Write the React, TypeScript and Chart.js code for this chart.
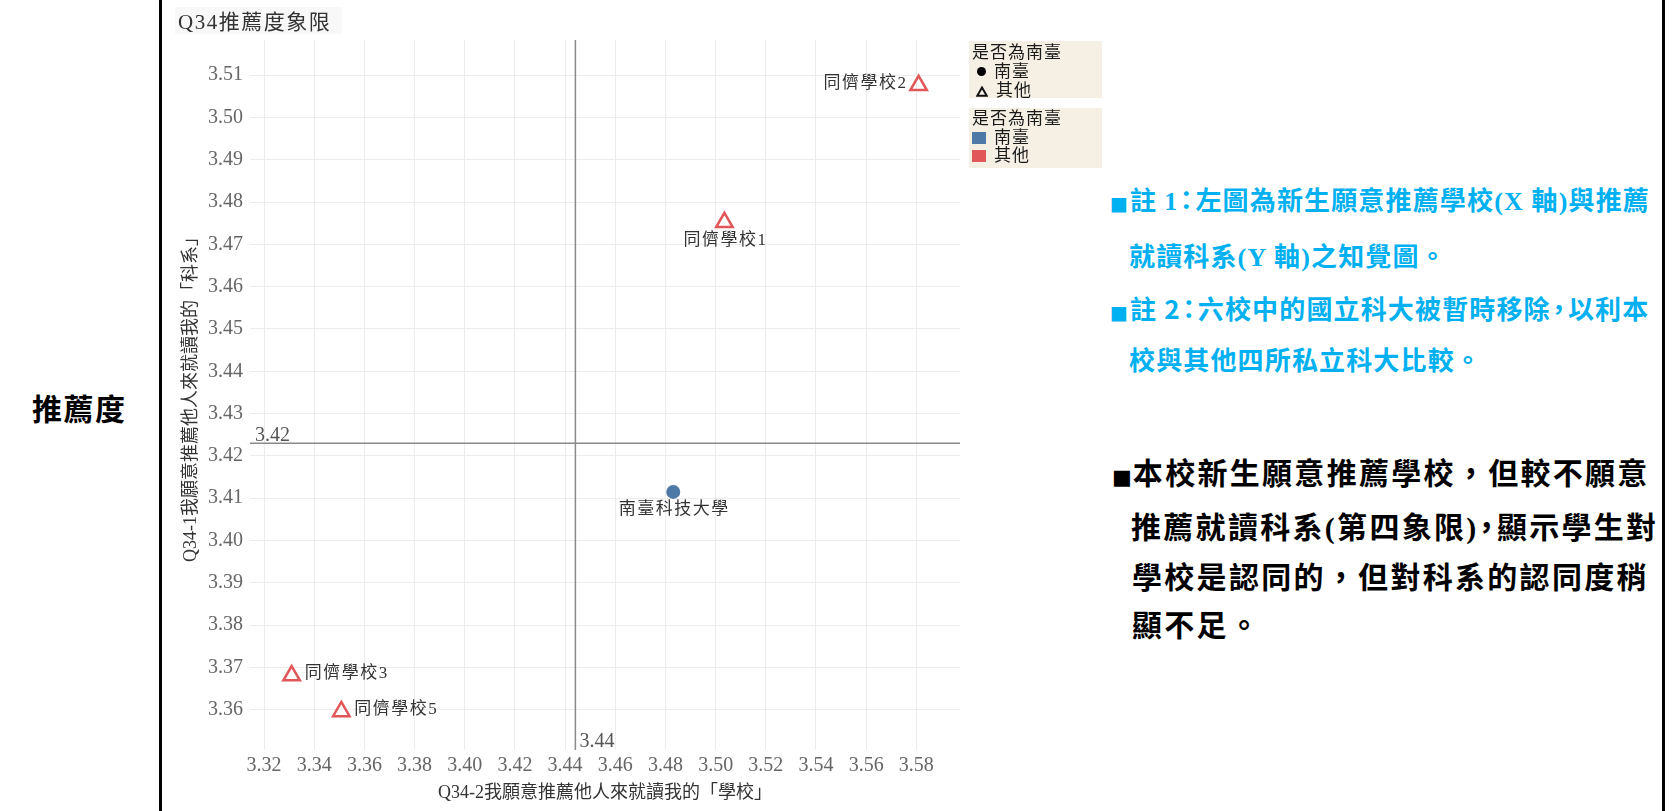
import React, { useEffect, useRef } from 'react';
import { Chart, registerables } from 'chart.js';

Chart.register(...registerables);

// ---------- data ----------
const SCHOOLS = ['南臺科技大學', '同儕學校1', '同儕學校2', '同儕學校3', '同儕學校5'];
const GROUPS = ['南臺', '其他', '其他', '其他', '其他'];
// X: Q34-2 我願意推薦他人來就讀我的「學校」
const SCHOOL_SCORE = [3.4831, 3.5035, 3.5809, 3.331, 3.3508];
// Y: Q34-1 我願意推薦他人來就讀我的「科系」
const DEPT_SCORE = [3.4115, 3.4752, 3.5076, 3.3681, 3.3596];
const REF_X = [3.4441];
const REF_Y = [3.423];
const X_TICKS = [3.32, 3.34, 3.36, 3.38, 3.4, 3.42, 3.44, 3.46, 3.48, 3.5, 3.52, 3.54, 3.56, 3.58];
const Y_TICKS = [3.36, 3.37, 3.38, 3.39, 3.4, 3.41, 3.42, 3.43, 3.44, 3.45, 3.46, 3.47, 3.48, 3.49, 3.5, 3.51];
const X_RANGE = [3.3144, 3.5974];
const Y_RANGE = [3.3505, 3.5183];

const CHART_TITLE = 'Q34推薦度象限';
const X_TITLE = 'Q34-2我願意推薦他人來就讀我的「學校」';
const Y_TITLE = 'Q34-1我願意推薦他人來就讀我的「科系」';
const LEGEND_TITLE = '是否為南臺';
const LEGEND_ITEMS = ['南臺', '其他'];

// ---------- styling ----------
const LABEL_SIDE = ['below', 'below', 'left', 'right', 'right'];
const SERIF = "'Liberation Serif', 'Noto Sans CJK TC', serif";
const SANS = "'Noto Sans CJK TC', 'Noto Sans', sans-serif";
const COLOR_SOUTH = '#4e79a7';
const COLOR_OTHER = '#e15759';

const overlayPlugin = {
  id: 'overlay',
  beforeDatasetsDraw(chart: any) {
    const { ctx, chartArea: a, scales } = chart;
    const px = scales.x.getPixelForValue(REF_X[0]);
    const py = scales.y.getPixelForValue(REF_Y[0]);
    ctx.save();
    ctx.strokeStyle = '#8a8a8a';
    ctx.lineWidth = 1.5;
    ctx.beginPath();
    ctx.moveTo(px, a.top);
    ctx.lineTo(px, a.bottom);
    ctx.moveTo(a.left, py);
    ctx.lineTo(a.right, py);
    ctx.stroke();
    ctx.font = `20px ${SERIF}`;
    ctx.fillStyle = '#555';
    ctx.textAlign = 'left';
    ctx.textBaseline = 'alphabetic';
    ctx.fillText(REF_Y[0].toFixed(2), a.left + 5, py - 2);
    ctx.fillText(REF_X[0].toFixed(2), px + 4, a.bottom - 3);
    ctx.restore();
  },
  afterDatasetsDraw(chart: any) {
    const { ctx, scales } = chart;
    ctx.save();
    ctx.font = `17px ${SERIF}`;
    (ctx as any).letterSpacing = '1.5px';
    ctx.fillStyle = '#333';
    ctx.textBaseline = 'middle';
    SCHOOLS.forEach((name, i) => {
      const px = scales.x.getPixelForValue(SCHOOL_SCORE[i]);
      const py = scales.y.getPixelForValue(DEPT_SCORE[i]);
      const side = LABEL_SIDE[i];
      if (side === 'left') {
        ctx.textAlign = 'right';
        ctx.fillText(name, px - 11, py - 2);
      } else if (side === 'right') {
        ctx.textAlign = 'left';
        ctx.fillText(name, px + 13, py - 2);
      } else {
        ctx.textAlign = 'center';
        ctx.fillText(name, px + 1, py + 18);
      }
    });
    ctx.restore();
  },
};

function pointsFor(group: string) {
  const out: { x: number; y: number }[] = [];
  SCHOOLS.forEach((_, i) => {
    if (GROUPS[i] === group) out.push({ x: SCHOOL_SCORE[i], y: DEPT_SCORE[i] });
  });
  return out;
}

function QuadrantChart() {
  const ref = useRef<HTMLCanvasElement | null>(null);
  useEffect(() => {
    if (!ref.current) return;
    const tickFont = { family: SERIF, size: 20 };
    const titleFont = { family: SERIF, size: 18 };
    const chart = new Chart(ref.current, {
      type: 'scatter',
      data: {
        datasets: [
          {
            label: LEGEND_ITEMS[0],
            data: pointsFor(LEGEND_ITEMS[0]),
            pointStyle: 'circle',
            pointRadius: 7,
            backgroundColor: COLOR_SOUTH,
            borderColor: COLOR_SOUTH,
            borderWidth: 0,
          },
          {
            label: LEGEND_ITEMS[1],
            data: pointsFor(LEGEND_ITEMS[1]),
            pointStyle: 'triangle',
            pointRadius: 9.5,
            backgroundColor: 'rgba(0,0,0,0)',
            borderColor: COLOR_OTHER,
            borderWidth: 2.5,
          },
        ],
      },
      options: {
        animation: false,
        responsive: true,
        maintainAspectRatio: false,
        events: [],
        layout: { padding: { top: 40, right: 20, left: 0, bottom: 0 } },
        plugins: { legend: { display: false }, tooltip: { enabled: false } },
        scales: {
          x: {
            type: 'linear',
            min: X_RANGE[0],
            max: X_RANGE[1],
            afterBuildTicks: (s: any) => {
              s.ticks = X_TICKS.map((v) => ({ value: v }));
            },
            afterFit: (s: any) => {
              s.height = 61;
            },
            ticks: {
              autoSkip: false,
              maxRotation: 0,
              padding: 4,
              color: '#666',
              font: tickFont,
              callback: (v: any) => Number(v).toFixed(2),
            },
            grid: { color: '#ececec', drawTicks: false },
            border: { display: false },
            title: {
              display: true,
              text: X_TITLE,
              color: '#333',
              font: titleFont,
              padding: { top: 0, bottom: 7 },
            },
          },
          y: {
            type: 'linear',
            min: Y_RANGE[0],
            max: Y_RANGE[1],
            afterBuildTicks: (s: any) => {
              s.ticks = Y_TICKS.map((v) => ({ value: v }));
            },
            afterFit: (s: any) => {
              s.width = 90;
            },
            ticks: {
              autoSkip: false,
              padding: 7,
              color: '#666',
              font: tickFont,
              callback: (v: any) => Number(v).toFixed(2),
            },
            grid: { color: '#ececec', drawTicks: false },
            border: { display: false },
            title: {
              display: true,
              text: Y_TITLE,
              color: '#333',
              font: titleFont,
              padding: { top: 20, bottom: 0 },
            },
          },
        },
      },
      plugins: [overlayPlugin],
    } as any);
    const fr = (document as any).fonts;
    if (fr && fr.ready) fr.ready.then(() => chart.update());
    return () => chart.destroy();
  }, []);
  return <canvas ref={ref} />;
}

const abs = (o: React.CSSProperties): React.CSSProperties => ({ position: 'absolute', whiteSpace: 'nowrap', ...o });

function TriangleIcon() {
  return (
    <svg width="12" height="11" viewBox="0 0 12 11" style={{ marginRight: 8, verticalAlign: '-1px' }}>
      <polygon points="6,1.5 10.8,9.8 1.2,9.8" fill="none" stroke="#111" strokeWidth="2" />
    </svg>
  );
}

export default function App() {
  useEffect(() => {
    document.body.style.margin = '0';
    document.body.style.overflow = 'hidden';
  }, []);

  const cyan: React.CSSProperties = {
    color: '#00b0f0',
    fontFamily: SANS,
    fontWeight: 700,
    fontSize: 26,
    letterSpacing: '1.15px',
    lineHeight: '36px',
    height: 36,
  };
  const black: React.CSSProperties = {
    color: '#000',
    fontFamily: SANS,
    fontWeight: 700,
    fontSize: 30,
    letterSpacing: '2.3px',
    lineHeight: '40px',
    height: 40,
  };
  const serifB: React.CSSProperties = { fontFamily: SERIF, fontWeight: 700 };
  const bulletC: React.CSSProperties = { fontFamily: "'DejaVu Sans'", fontSize: 19, letterSpacing: 0, marginRight: 2 };
  const bulletK: React.CSSProperties = { fontFamily: "'DejaVu Sans'", fontSize: 21, letterSpacing: 0, marginRight: 1 };
  const tight: React.CSSProperties = { margin: '0 -5px' };
  const legendText: React.CSSProperties = {
    fontFamily: SERIF,
    fontSize: 17,
    color: '#1a1a1a',
    letterSpacing: '1px',
    lineHeight: '19px',
    height: 19,
  };

  return (
    <div style={{ position: 'absolute', left: 0, top: 0, width: 1678, height: 811, background: '#fff', overflow: 'hidden' }}>
      <div style={abs({ left: 160, top: 0, width: 820, height: 811 })}>
        <QuadrantChart />
      </div>

      <div style={abs({ left: 159, top: 0, width: 3, height: 811, background: '#000' })} />
      <div style={abs({ left: 1662, top: 0, width: 3, height: 811, background: '#000' })} />

      <div style={abs({ left: 32, top: 387, height: 40, lineHeight: '40px', fontFamily: SANS, fontWeight: 700, fontSize: 30, letterSpacing: '1.5px', color: '#000' })}>
        推薦度
      </div>

      <div style={abs({ left: 175, top: 7, width: 167, height: 27, background: '#f8f8f8' })} />
      <div style={abs({ left: 178, top: 8, height: 28, lineHeight: '28px', fontFamily: SERIF, fontSize: 21, letterSpacing: '1.5px', color: '#333' })}>
        {CHART_TITLE}
      </div>

      {/* shape legend */}
      <div style={abs({ left: 969, top: 41, width: 133, height: 57, background: '#f5f0e3' })}>
        <div style={abs({ left: 3, top: 1.5, ...legendText })}>{LEGEND_TITLE}</div>
        <div style={abs({ left: 8, top: 20.5, ...legendText })}>
          <span style={{ display: 'inline-block', width: 9, height: 9, borderRadius: '50%', background: '#000', marginRight: 8, verticalAlign: '1px' }} />
          {LEGEND_ITEMS[0]}
        </div>
        <div style={abs({ left: 7, top: 39.5, ...legendText })}>
          <TriangleIcon />
          {LEGEND_ITEMS[1]}
        </div>
      </div>

      {/* colour legend */}
      <div style={abs({ left: 969, top: 108, width: 133, height: 60, background: '#f5f0e3' })}>
        <div style={abs({ left: 3, top: 0.5, ...legendText })}>{LEGEND_TITLE}</div>
        <div style={abs({ left: 3, top: 19.5, ...legendText })}>
          <span style={{ display: 'inline-block', width: 14, height: 12, background: COLOR_SOUTH, marginRight: 8, verticalAlign: '-1px' }} />
          {LEGEND_ITEMS[0]}
        </div>
        <div style={abs({ left: 3, top: 37.5, ...legendText })}>
          <span style={{ display: 'inline-block', width: 14, height: 12, background: COLOR_OTHER, marginRight: 8, verticalAlign: '-1px' }} />
          {LEGEND_ITEMS[1]}
        </div>
      </div>

      {/* cyan notes */}
      <div style={abs({ left: 1110, top: 181, ...cyan })}>
        <span style={bulletC}>■</span>註 <span style={serifB}>1</span><span style={tight}>：</span>左圖為新生願意推薦學校<span style={serifB}>(X </span>軸<span style={serifB}>)</span>與推薦
      </div>
      <div style={abs({ left: 1129, top: 237, ...cyan })}>
        就讀科系<span style={serifB}>(Y </span>軸<span style={serifB}>)</span>之知覺圖。
      </div>
      <div style={abs({ left: 1110, top: 290, ...cyan })}>
        <span style={bulletC}>■</span>註 2<span style={tight}>：</span>六校中的國立科大被暫時移除<span style={tight}>，</span>以利本
      </div>
      <div style={abs({ left: 1129, top: 341, ...cyan })}>
        校與其他四所私立科大比較。
      </div>

      {/* black notes */}
      <div style={abs({ left: 1112, top: 451, ...black })}>
        <span style={bulletK}>■</span>本校新生願意推薦學校，但較不願意
      </div>
      <div style={abs({ left: 1131, top: 505, ...black })}>
        推薦就讀科系<span style={serifB}>(</span>第四象限<span style={serifB}>)</span><span style={{ margin: '0 -7px' }}>，</span>顯示學生對
      </div>
      <div style={abs({ left: 1132, top: 555, ...black })}>
        學校是認同的，但對科系的認同度稍
      </div>
      <div style={abs({ left: 1132, top: 603, ...black })}>
        顯不足。
      </div>
    </div>
  );
}
